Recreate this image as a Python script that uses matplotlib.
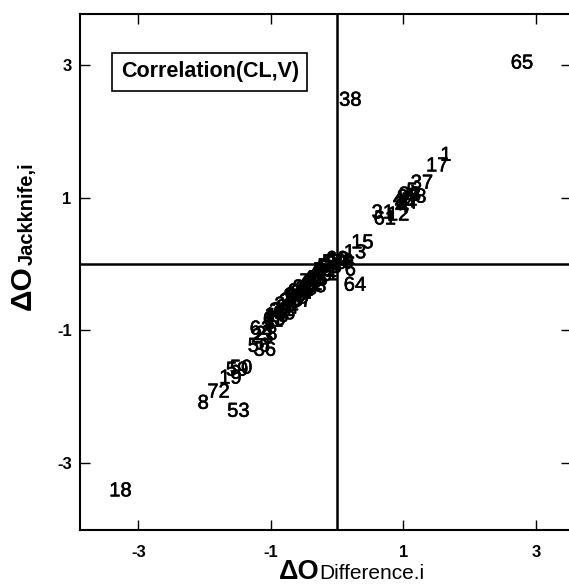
import matplotlib
matplotlib.use("Agg")
import matplotlib.pyplot as plt
import matplotlib.patheffects as pe

plt.rcParams['font.family'] = ['Liberation Sans', 'DejaVu Sans']
plt.rcParams['axes.unicode_minus'] = False

labels = ["65", "38", "1", "17", "37", "15", "13", "64", "18", "53",
          "8", "72", "19", "59", "50", "56", "36", "23", "28",
          "10", "9", "46", "6",
          "61", "31", "12", "4", "44", "27", "33", "5", "40", "48", "2", "7",
          "3", "11", "14", "16", "20", "21", "22", "24", "25", "26",
          "29", "30", "32", "34", "35", "39", "41", "42", "43", "45",
          "47", "49", "51", "52", "54", "55", "57", "58", "60", "62", "63",
          "66", "67", "68", "69", "70", "71"]
x_diff = [2.79, 0.20, 1.64, 1.51, 1.28, 0.38, 0.27, 0.27, -3.27, -1.49,
          -2.02, -1.79, -1.61, -1.51, -1.45, -1.18, -1.09, -1.13, -1.07,
          0.02, 0.17, 0.08, 0.20,
          0.72, 0.69, 0.92, 1.00, 1.04, 1.07, 1.10, 1.13, 1.01, 1.18, 0.95, 1.15,
          -1.02, -0.97, -0.93, -0.90, -0.86, -0.82, -0.78, -0.75, -0.71, -0.68,
          -0.64, -0.60, -0.57, -0.53, -0.50, -0.46, -0.42, -0.39, -0.35, -0.31,
          -0.28, -0.24, -0.20, -0.17, -0.13, -0.10, -0.06, -0.03, 0.00, -1.15, -0.95,
          -0.80, -0.55, -0.33, -0.62, -0.40, -0.15]
y_jack = [3.03, 2.47, 1.64, 1.48, 1.22, 0.32, 0.17, -0.32, -3.42, -2.22,
          -2.10, -1.93, -1.72, -1.60, -1.57, -1.24, -1.30, -1.10, -1.06,
          0.06, 0.03, 0.02, -0.09,
          0.68, 0.77, 0.74, 0.86, 0.92, 1.00, 1.04, 1.10, 0.97, 1.01, 0.90, 0.94,
          -0.90, -0.86, -0.78, -0.79, -0.71, -0.70, -0.62, -0.66, -0.57, -0.55,
          -0.49, -0.51, -0.42, -0.44, -0.36, -0.38, -0.30, -0.31, -0.22, -0.24,
          -0.17, -0.17, -0.10, -0.11, -0.04, -0.05, 0.02, 0.01, 0.07, -0.98, -0.84,
          -0.75, -0.56, -0.34, -0.47, -0.27, -0.16]

ticks = [-3, -1, 1, 3]

fig = plt.figure(figsize=(5.69, 5.86), dpi=100)
ax = fig.add_axes([0.1406, 0.0956, 0.8629, 0.8805])
ax.set_xlim(-3.88, 3.53)
ax.set_ylim(-4.01, 3.77)

ax.axhline(0, color='black', lw=1.8)
ax.axvline(0, color='black', lw=1.8)

# slightly heavier strokes, like the scanned original
heavy = [pe.withStroke(linewidth=0.4, foreground='black')]
for lab, x, y in zip(labels, x_diff, y_jack):
    ax.text(x, y, lab, fontsize=14.5, ha='center', va='center', path_effects=heavy)

ax.set_xticks(ticks)
ax.set_yticks(ticks)
ax.set_xticklabels([str(t) for t in ticks], fontweight='bold', fontsize=12)
ax.set_yticklabels([str(t) for t in ticks], fontweight='bold', fontsize=12)
ax.tick_params(direction='in', length=7, width=1, top=True, right=True)
ax.tick_params(axis='x', pad=11)
ax.tick_params(axis='y', pad=6)
for s in ax.spines.values():
    s.set_linewidth(1.5)

ax.text(0.083, 0.888, "Correlation(CL,V)", transform=ax.transAxes,
        fontsize=15.5, fontweight='bold', ha='left', va='center',
        bbox=dict(boxstyle='square,pad=0.4', fc='white', ec='black', lw=1.2))

# axis titles, two sizes each
fig.text(319 / 569, 7 / 586, "\u0394O", fontsize=19.5, fontweight='bold',
         ha='right', va='baseline')
fig.text(319 / 569, 7 / 586, "Difference.i", fontsize=15,
         ha='left', va='baseline')
fig.text(37 / 569, (586 - 265) / 586, "\u0394O", fontsize=21.5, fontweight='bold',
         rotation=90, ha='right', va='top')
fig.text(37 / 569, (586 - 265) / 586, "Jackknife,i", fontsize=14.5, fontweight='bold',
         rotation=90, ha='right', va='bottom')

fig.savefig("out.png", dpi=100)
